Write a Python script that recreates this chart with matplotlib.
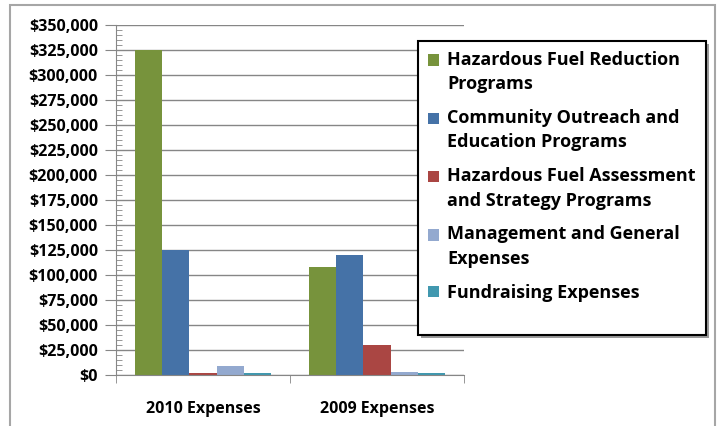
import matplotlib
matplotlib.use("Agg")

import numpy as np
import matplotlib.pyplot as plt
from matplotlib.patches import Rectangle
from matplotlib.legend_handler import HandlerBase
from matplotlib.ticker import FuncFormatter, MultipleLocator

plt.rcParams["font.family"] = ["Open Sans", "DejaVu Sans"]
plt.rcParams["font.weight"] = "bold"

# data
categories = ["2010 Expenses", "2009 Expenses"]
series_names = [
    "Hazardous Fuel Reduction\nPrograms",
    "Community Outreach and\nEducation Programs",
    "Hazardous Fuel Assessment\nand Strategy Programs",
    "Management and General\nExpenses",
    "Fundraising Expenses",
]
fuel_reduction = [325000, 108000]
outreach = [125000, 120000]
assessment = [2000, 30000]
management = [9500, 3500]
fundraising = [2000, 2000]
colors = ["#77933C", "#4572A7", "#AA4643", "#93A9CF", "#4198AF"]

series = [fuel_reduction, outreach, assessment, management, fundraising]


class FirstLineSquare(HandlerBase):
    """square legend key sitting next to the first line of a 2-line label"""
    def __init__(self, color, shift):
        super().__init__()
        self.color = color
        self.shift = shift

    def legend_artist(self, legend, orig_handle, fontsize, handlebox):
        s = handlebox.height
        r = Rectangle((-handlebox.xdescent, -handlebox.ydescent + self.shift), s, s,
                      facecolor=self.color, edgecolor="none")
        handlebox.add_artist(r)
        return r


W, H = 720, 426
fig = plt.figure(figsize=(W / 100, H / 100), dpi=100)
ax = fig.add_axes([116 / W, 1 - 375 / H, (464 - 116) / W, (375 - 25) / H])

# outer chart border
fig.patches.append(Rectangle((10 / W, -0.05), (715 - 10) / W, 1.05 - 5 / H,
                             transform=fig.transFigure, fill=False,
                             edgecolor="#A6A6A6", linewidth=1.5, zorder=1))

# legend box drawn by hand (Excel leaves empty room under the last entry)
lx0, lx1, ly0, ly1 = 418, 706, 41, 335
fig.patches.append(Rectangle(((lx0 + 3) / W, 1 - (ly1 + 3) / H), (lx1 - lx0) / W,
                             (ly1 - ly0) / H, transform=fig.transFigure,
                             facecolor="#9a9a9a", edgecolor="none", zorder=2))
fig.patches.append(Rectangle((lx0 / W, 1 - ly1 / H), (lx1 - lx0) / W,
                             (ly1 - ly0) / H, transform=fig.transFigure,
                             facecolor="white", edgecolor="black",
                             linewidth=1.5, zorder=3))

x = np.arange(len(categories))
bw = 0.156
bars = []
for i, (vals, name, c) in enumerate(zip(series, series_names, colors)):
    offs = (i - 2) * bw
    bars.append(ax.bar(x + offs, vals, bw, color=c, label=name, zorder=3))

ax.set_xlim(-0.5, 1.5)
ax.set_ylim(0, 350000)
ax.set_xticks(x)
ax.set_xticklabels(categories, fontsize=11.5, fontweight="bold")
ax.set_xticks([-0.5, 0.5, 1.5], minor=True)
ax.tick_params(axis="x", which="major", length=0, pad=19)
ax.tick_params(axis="x", which="minor", length=6, direction="out", color="#868686")

ax.yaxis.set_major_locator(MultipleLocator(25000))
ax.yaxis.set_minor_locator(MultipleLocator(5000))
ax.yaxis.set_major_formatter(FuncFormatter(lambda v, p: f"${v:,.0f}"))
ax.tick_params(axis="y", which="major", length=8, direction="out",
               color="#868686", labelsize=11.5, pad=5)
ax.tick_params(axis="y", which="minor", length=4, direction="in", color="#868686")
for lab in ax.get_yticklabels():
    lab.set_fontweight("bold")

ax.grid(axis="y", color="#868686", linewidth=1, zorder=0)
for s in ["top", "right"]:
    ax.spines[s].set_visible(False)
for s in ["left", "bottom"]:
    ax.spines[s].set_color("#868686")
    ax.spines[s].set_zorder(4)

hmap = {}
for b, name, c in zip(bars, series_names, colors):
    shift = 9 if "\n" in name else 0
    hmap[b] = FirstLineSquare(c, shift)

leg = fig.legend(handles=bars, labels=series_names, loc="upper left",
                 bbox_to_anchor=(lx0 / W, 1 - ly0 / H), borderaxespad=0,
                 frameon=False, handlelength=0.6, handleheight=0.6,
                 handletextpad=0.45, labelspacing=0.88, borderpad=0.55,
                 handler_map=hmap, prop={"size": 13, "weight": "bold"})
for t in leg.get_texts():
    t.set_linespacing(1.45)
leg.set_zorder(5)

fig.savefig("out.png", dpi=100)
